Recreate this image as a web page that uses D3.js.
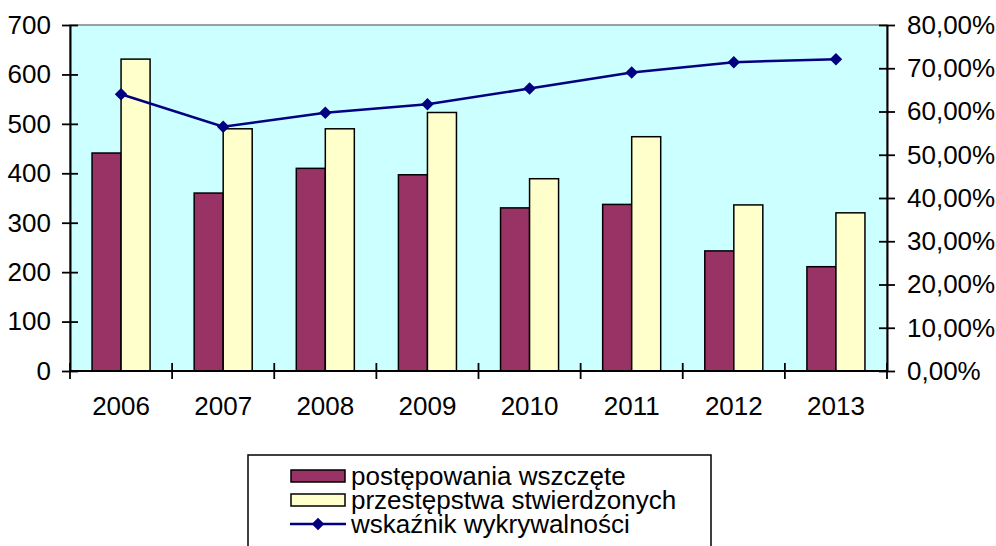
<!DOCTYPE html>
<html>
<head>
<meta charset="utf-8">
<script src="https://cdn.jsdelivr.net/npm/d3@7"></script>
<style>
  body { margin: 0; background: #fff; }
  svg { display: block; font-family: "Liberation Sans", Arial, sans-serif; }
</style>
</head>
<body>
<svg id="chart" width="996" height="546"></svg>
<script>
var years = ["2006", "2007", "2008", "2009", "2010", "2011", "2012", "2013"];
var seriesNames = ["postępowania wszczęte", "przestępstwa stwierdzonych"];
var lineName = "wskaźnik wykrywalności";
var wszczete = [441, 360, 410, 397, 330, 337, 243, 211];
var stwierdzone = [631, 490, 490, 523, 389, 474, 336, 320];
var wskaznik = [0.640, 0.565, 0.597, 0.617, 0.653, 0.690, 0.714, 0.721];
var leftTicks = [0, 100, 200, 300, 400, 500, 600, 700];
var rightTicks = [0, 0.1, 0.2, 0.3, 0.4, 0.5, 0.6, 0.7, 0.8];

(function() {
    var barColors = ["#993366", "#FFFFCC"];
    var lineColor = "#000080";

    var svg = d3.select("#chart");
    var pLeft = 70, pRight = 887, pTop = 25, pBottom = 371;

    var x = d3.scaleBand().domain(years).range([pLeft, pRight]).padding(0);
    var x1 = d3.scaleBand().domain([0, 1]).range([0, x.bandwidth()])
        .paddingInner(0).paddingOuter(0.76);
    var y = d3.scaleLinear().domain([0, 700]).range([pBottom, pTop]);
    var y2 = d3.scaleLinear().domain([0, 0.8]).range([pBottom, pTop]);

    var pl = d3.formatLocale({decimal: ",", thousands: " ", grouping: [3], currency: ["", " zł"]});
    var pct = pl.format(".2%");

    // plot area
    svg.append("rect")
        .attr("x", pLeft).attr("y", pTop)
        .attr("width", pRight - pLeft).attr("height", pBottom - pTop)
        .attr("fill", "#CCFFFF")
        .attr("stroke", "#808080").attr("stroke-width", 1.5);

    // bars
    var rows = years.map(function(yr, i) {
        return {year: yr, vals: [wszczete[i], stwierdzone[i]]};
    });
    var groups = svg.append("g").selectAll("g")
        .data(rows).enter().append("g")
        .attr("transform", function(d) { return "translate(" + x(d.year) + ",0)"; });
    groups.selectAll("rect")
        .data(function(d) { return d.vals; })
        .enter().append("rect")
        .attr("x", function(d, i) { return x1(i); })
        .attr("y", function(d) { return y(d); })
        .attr("width", x1.bandwidth())
        .attr("height", function(d) { return pBottom - y(d); })
        .attr("fill", function(d, i) { return barColors[i]; })
        .attr("stroke", "#000").attr("stroke-width", 1.5);

    // axes
    var fontSize = 26;
    var axL = svg.append("g").attr("transform", "translate(" + pLeft + ",0)")
        .call(d3.axisLeft(y).tickValues(leftTicks).tickSizeInner(8).tickSizeOuter(0).tickPadding(11));
    var axR = svg.append("g").attr("transform", "translate(" + pRight + ",0)")
        .call(d3.axisRight(y2).tickValues(rightTicks).tickFormat(pct).tickSizeInner(8).tickSizeOuter(0).tickPadding(12));
    [axL, axR].forEach(function(ax) {
        ax.select(".domain").attr("stroke", "#000").attr("stroke-width", 2);
        ax.selectAll(".tick line").attr("stroke", "#000").attr("stroke-width", 1.8)
            .attr("x1", function() { return -d3.select(this).attr("x2"); });
        ax.selectAll("text").attr("font-size", fontSize).attr("fill", "#000")
            .attr("font-family", "Liberation Sans, Arial, sans-serif");
    });

    // x axis
    var axX = svg.append("g").attr("transform", "translate(0," + pBottom + ")");
    axX.append("line").attr("x1", pLeft).attr("x2", pRight)
        .attr("stroke", "#000").attr("stroke-width", 2);
    var bounds = years.map(function(d) { return x(d); }).concat([pRight]);
    axX.selectAll(".tk").data(bounds).enter().append("line")
        .attr("x1", function(d) { return d; }).attr("x2", function(d) { return d; })
        .attr("y1", -8).attr("y2", 8)
        .attr("stroke", "#000").attr("stroke-width", 1.8);
    axX.selectAll("text").data(years).enter().append("text")
        .attr("x", function(d) { return x(d) + x.bandwidth() / 2; })
        .attr("y", 44)
        .attr("text-anchor", "middle")
        .attr("font-size", fontSize)
        .text(function(d) { return d; });

    // line
    var cx = function(i) { return x(years[i]) + x.bandwidth() / 2; };
    var line = d3.line()
        .x(function(d, i) { return cx(i); })
        .y(function(d) { return y2(d); });
    svg.append("path").datum(wskaznik)
        .attr("d", line)
        .attr("fill", "none")
        .attr("stroke", lineColor).attr("stroke-width", 2.5);
    var diamond = d3.symbol().type(d3.symbolDiamond2).size(100);
    svg.append("g").selectAll("path")
        .data(wskaznik).enter().append("path")
        .attr("d", diamond)
        .attr("transform", function(d, i) { return "translate(" + cx(i) + "," + y2(d) + ")"; })
        .attr("fill", lineColor);

    // legend
    var lg = svg.append("g");
    lg.append("rect")
        .attr("x", 248).attr("y", 455).attr("width", 463).attr("height", 120)
        .attr("fill", "#fff").attr("stroke", "#000").attr("stroke-width", 1.5);
    var legendItems = seriesNames.concat([lineName]);
    legendItems.forEach(function(name, i) {
        var cy = 476 + i * 24;
        if (i < 2) {
            lg.append("rect")
                .attr("x", 291).attr("y", cy - 6).attr("width", 54).attr("height", 12)
                .attr("fill", barColors[i]).attr("stroke", "#000").attr("stroke-width", 1.5);
        } else {
            lg.append("line")
                .attr("x1", 290).attr("x2", 346).attr("y1", cy).attr("y2", cy)
                .attr("stroke", lineColor).attr("stroke-width", 2.5);
            lg.append("path").attr("d", diamond)
                .attr("transform", "translate(318," + cy + ")")
                .attr("fill", lineColor);
        }
        lg.append("text")
            .attr("x", 351).attr("y", cy).attr("dy", "0.35em")
            .attr("font-size", fontSize)
            .text(name);
    });
})();
</script>
</body>
</html>
